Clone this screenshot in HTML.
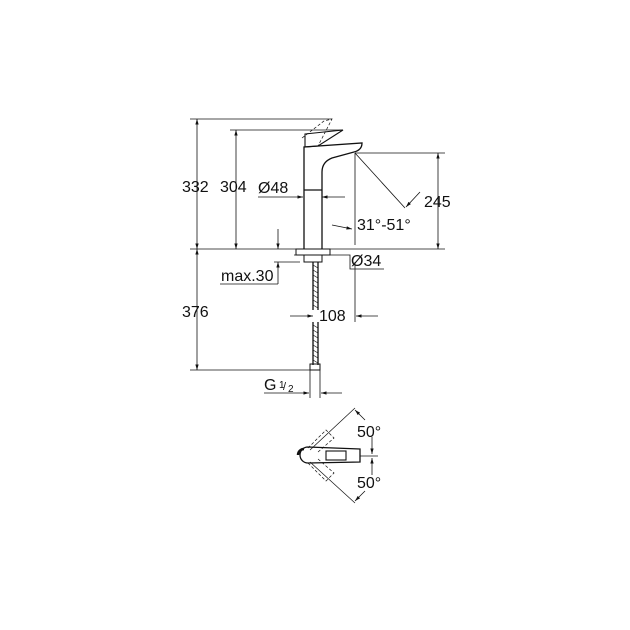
<!DOCTYPE html>
<html><head><style>html,body{margin:0;padding:0;background:#fff}svg{display:block}text{font-family:"Liberation Sans",sans-serif;fill:#111}</style></head>
<body>
<svg width="630" height="630" viewBox="0 0 630 630" xmlns="http://www.w3.org/2000/svg">
<defs><marker id="a" viewBox="0 0 10 10" refX="10" refY="5" markerWidth="7" markerHeight="7" orient="auto-start-reverse"><path d="M0,2 L10,5 L0,8z" fill="#111"/></marker></defs>
<g stroke="#111" stroke-width="0.8" fill="none">
<line x1="190" y1="119" x2="332" y2="119"/>
<line x1="230" y1="130" x2="342" y2="130"/>
<line x1="190" y1="249" x2="445" y2="249"/>
<line x1="355" y1="153" x2="445" y2="153"/>
<line x1="190" y1="370" x2="318" y2="370"/>
<line x1="197" y1="119" x2="197" y2="249" marker-start="url(#a)" marker-end="url(#a)"/>
<line x1="236" y1="130" x2="236" y2="249" marker-start="url(#a)" marker-end="url(#a)"/>
<line x1="438" y1="153" x2="438" y2="249" marker-start="url(#a)" marker-end="url(#a)"/>
<line x1="197" y1="249" x2="197" y2="370" marker-start="url(#a)" marker-end="url(#a)"/>
<line x1="355" y1="153" x2="355" y2="245"/>
<line x1="355" y1="153" x2="405" y2="208"/>
<line x1="420" y1="192" x2="406" y2="207" marker-end="url(#a)"/>
<line x1="332" y1="225" x2="352" y2="229" marker-end="url(#a)"/>
<line x1="258" y1="197" x2="303" y2="197" marker-end="url(#a)"/>
<line x1="345" y1="197" x2="322" y2="197" marker-end="url(#a)"/>
<line x1="278" y1="229" x2="278" y2="249" marker-end="url(#a)"/>
<line x1="278" y1="284" x2="278" y2="262" marker-end="url(#a)"/>
<line x1="220" y1="284" x2="278" y2="284"/>
<line x1="274" y1="262" x2="300" y2="262"/>
<polyline points="326,255 350,255 350,269 384,269"/>
<line x1="294" y1="255" x2="306" y2="255" stroke-dasharray="2,1"/>
<line x1="355" y1="262" x2="355" y2="322"/>
<line x1="290" y1="316" x2="313" y2="316" marker-end="url(#a)"/>
<line x1="378" y1="316" x2="356" y2="316" marker-end="url(#a)"/>
<line x1="310" y1="370" x2="310" y2="398"/>
<line x1="320" y1="370" x2="320" y2="398"/>
<line x1="264" y1="393" x2="309" y2="393" marker-end="url(#a)"/>
<line x1="342" y1="393" x2="321" y2="393" marker-end="url(#a)"/>
</g>
<g stroke="#111" stroke-width="1.3" fill="none">
<path d="M304,249 L304,147 L362,143 Q362,150 354,152 L332,158 Q322,162 322,172 L322,249"/>
<line x1="304" y1="190" x2="322" y2="190"/>
<path d="M305,134 L343,130 L318,146 L305,147 Z" stroke-width="1.1"/>
<path d="M302,138 L324,121 L332,119 L318,146" stroke-width="0.7" stroke-dasharray="3,2"/>
<rect x="296" y="249" width="34" height="6" stroke-width="1"/>
<rect x="304" y="255" width="18" height="7" stroke-width="1"/>
<line x1="313" y1="262" x2="313" y2="310"/>
<line x1="318" y1="262" x2="318" y2="310"/>
<line x1="313" y1="322" x2="313" y2="365"/>
<line x1="318" y1="322" x2="318" y2="365"/>
<rect x="310" y="364" width="10" height="6" stroke-width="1"/>
</g>
<g stroke="#111" stroke-width="0.6">
<path d="M313,265 L318,268 M313,270 L318,273 M313,275 L318,278 M313,280 L318,283 M313,285 L318,288 M313,290 L318,293 M313,295 L318,298 M313,300 L318,303 M313,305 L318,308 M313,325 L318,328 M313,330 L318,333 M313,335 L318,338 M313,340 L318,343 M313,345 L318,348 M313,350 L318,353 M313,355 L318,358 M313,360 L318,363"/>
</g>
<g stroke="#111" fill="none">
<path d="M360,449 L308,447 A8,8 0 0 0 308,463 L360,462 Z" stroke-width="1.3"/>
<path d="M298,455 A6,6 0 0 1 304,449" stroke-width="2.5"/>
<rect x="326" y="451" width="20" height="9" stroke-width="1.1"/>
<line x1="360" y1="456" x2="378" y2="456" stroke-width="0.8"/>
<line x1="310" y1="450" x2="355" y2="408" stroke-width="0.7"/>
<line x1="310" y1="462" x2="355" y2="503" stroke-width="0.7"/>
<path d="M308,448 L326,430 L334,438 L318,452 M308,463 L326,481 L334,473 L318,459" stroke-width="0.7" stroke-dasharray="3,2"/>
<line x1="372" y1="437" x2="372" y2="454" stroke-width="0.8" marker-end="url(#a)"/>
<line x1="372" y1="475" x2="372" y2="458" stroke-width="0.8" marker-end="url(#a)"/>
<line x1="365" y1="420" x2="355" y2="410" stroke-width="0.8" marker-end="url(#a)"/>
<line x1="365" y1="491" x2="355" y2="501" stroke-width="0.8" marker-end="url(#a)"/>
</g>
<g font-size="16">
<text x="182" y="192">332</text>
<text x="220" y="192">304</text>
<text x="258" y="193">Ø48</text>
<text x="424" y="207">245</text>
<text x="357" y="230">31°-51°</text>
<text x="351" y="266">Ø34</text>
<text x="221" y="281">max.30</text>
<text x="182" y="317">376</text>
<text x="319" y="321">108</text>
<text x="264" y="390">G</text>
<text x="279" y="388" font-size="10">1</text>
<text x="283" y="390" font-size="11">/</text>
<text x="288" y="392" font-size="10">2</text>
<text x="357" y="437">50°</text>
<text x="357" y="488">50°</text>
</g>
</svg>
</body></html>
